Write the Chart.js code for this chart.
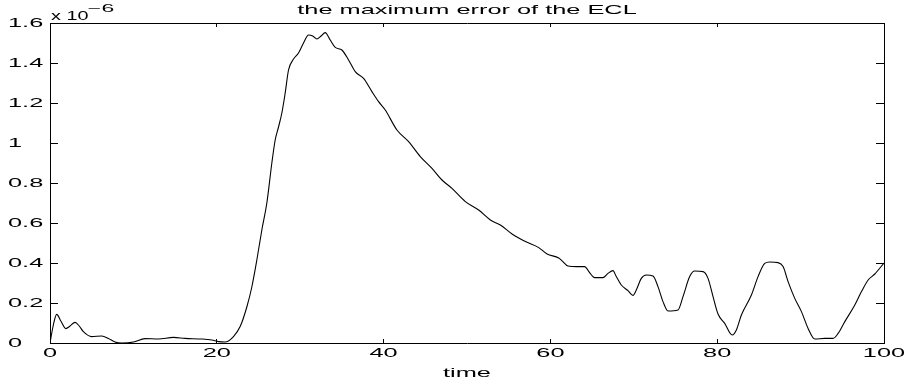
<!DOCTYPE html>
<html>
<head>
<meta charset="utf-8">
<script src="https://cdn.jsdelivr.net/npm/chart.js@4/dist/chart.umd.min.js"></script>
<style>
html,body{margin:0;padding:0;background:#fff;}
canvas{display:block;}
</style>
</head>
<body>
<canvas id="c" width="907" height="382"></canvas>
<script>
// time axis (x) values
const timeValues = [0,0.4,0.8,1.3,1.9,2.4,3.0,3.5,4.0,5.0,6.2,7.0,7.8,8.6,10,11.4,13,14.8,16.2,18.2,19.4,20.2,21,22,22.8,23.6,24.2,24.8,25.4,26.0,26.6,27.0,27.4,27.8,28.2,28.6,29.2,29.8,30.4,31.0,31.5,32.0,32.5,33.0,33.6,34.2,35.0,35.8,36.6,37.6,38.6,39.4,40.2,41.6,43.0,44.4,45.8,47.0,48.2,49.8,51.4,52.8,54.0,55.4,57.0,58.6,59.6,61.0,61.5,62.1,63.2,64.1,64.7,65.3,66.3,66.9,67.5,67.9,68.5,69.3,69.9,70.3,70.9,71.5,72.3,72.9,73.5,74.1,75.3,75.9,76.7,77.3,78.3,78.9,79.5,80.1,80.9,81.8,82.3,82.9,84.1,84.9,85.7,86.3,87.3,87.9,88.5,89.3,90.1,90.9,91.7,92.9,93.9,94.5,95.3,96.5,97.3,98.1,98.9,100];
// maximum error of the ECL, in units of 1e-6
const errorValues = [0,0.09,0.143,0.11,0.072,0.085,0.103,0.085,0.057,0.032,0.035,0.023,0.005,0,0.005,0.022,0.02,0.028,0.023,0.02,0.015,0.007,0.005,0.032,0.082,0.18,0.28,0.415,0.565,0.70,0.90,1.015,1.08,1.15,1.25,1.365,1.42,1.45,1.50,1.54,1.535,1.52,1.535,1.552,1.515,1.478,1.465,1.415,1.357,1.323,1.257,1.207,1.165,1.065,1.007,0.932,0.873,0.815,0.773,0.707,0.665,0.615,0.59,0.545,0.507,0.477,0.445,0.425,0.407,0.385,0.382,0.382,0.352,0.327,0.327,0.348,0.362,0.332,0.29,0.262,0.238,0.265,0.323,0.34,0.335,0.282,0.207,0.16,0.165,0.232,0.332,0.36,0.357,0.323,0.232,0.145,0.098,0.04,0.065,0.14,0.24,0.332,0.398,0.405,0.402,0.382,0.307,0.223,0.157,0.073,0.02,0.023,0.023,0.048,0.107,0.19,0.257,0.315,0.345,0.40];
const xTicks = [0,20,40,60,80,100];
const yTicks = [0,0.2,0.4,0.6,0.8,1.0,1.2,1.4,1.6];
const titleText = 'the maximum error of the ECL';
const xLabel = 'time';
const multiplierBase = 'x 10';
const multiplierExp = '\u22126';

const canvas = document.getElementById('c');
const ctx = canvas.getContext('2d');
// horizontally stretched lettering, like the reference
ctx._sx = 1.95;
const origFill = ctx.fillText;
ctx.fillText = function(t, x, y, maxW) {
  const sx = this._sx || 1;
  this.save();
  this.translate(x, y);
  this.scale(sx, 1);
  if (maxW !== undefined) origFill.call(this, t, 0, 0, maxW / sx);
  else origFill.call(this, t, 0, 0);
  this.restore();
};
const origMeasure = ctx.measureText;
ctx.measureText = function(t) {
  const m = origMeasure.call(this, t);
  return {width: m.width * (this._sx || 1), actualBoundingBoxAscent: m.actualBoundingBoxAscent, actualBoundingBoxDescent: m.actualBoundingBoxDescent};
};

const FONT = {family: '"Liberation Sans", Arial, Helvetica, sans-serif', size: 13};
const points = timeValues.map((t, i) => ({x: t, y: errorValues[i]}));
const fmt = v => String(Number(v.toFixed(1)));

const multiplierPlugin = {
  id: 'multiplier',
  afterDraw(chart) {
    const c = chart.ctx;
    const a = chart.chartArea;
    c.save();
    c.fillStyle = '#000';
    c.textAlign = 'left';
    c.textBaseline = 'alphabetic';
    c._sx = 1.65;
    c.font = '12px "Liberation Sans", Arial, sans-serif';
    c.fillText(multiplierBase, a.left + 1, a.top - 3);
    c._sx = 2.3;
    c.font = '10px "Liberation Sans", Arial, sans-serif';
    c.fillText(multiplierExp, a.left + 38, a.top - 11);
    c._sx = 1.95;
    c.restore();
  }
};

function setTicks(arr) { return function(scale) { scale.ticks = arr.map(v => ({value: v})); }; }
function noSidePad(s) { s.paddingLeft = 0; s.paddingRight = 0; }

new Chart(ctx, {
  type: 'line',
  data: {
    datasets: [{
      data: points,
      borderColor: '#000',
      borderWidth: 1.1,
      pointRadius: 0,
      fill: false,
      cubicInterpolationMode: 'monotone'
    }]
  },
  options: {
    responsive: false,
    animation: false,
    events: [],
    layout: {padding: {left: 8, right: 0, top: 0, bottom: 0}},
    plugins: {legend: {display: false}, title: {display: false}, tooltip: {enabled: false}},
    scales: {
      x: {
        type: 'linear', position: 'bottom', min: 0, max: 100,
        afterBuildTicks: setTicks(xTicks),
        afterFit(s) { s.height = 39; noSidePad(s); },
        grid: {drawOnChartArea: false, tickLength: -4, color: '#000', tickWidth: 1},
        border: {display: true, color: '#000', width: 1},
        ticks: {color: '#000', font: FONT, padding: 7, maxRotation: 0, autoSkip: false, callback: fmt},
        title: {display: true, text: xLabel, color: '#000', font: FONT, padding: {top: 0, bottom: 0.7}}
      },
      x2: {
        type: 'linear', position: 'top', min: 0, max: 100,
        afterBuildTicks: setTicks(xTicks),
        afterFit(s) { s.height = 23; noSidePad(s); },
        grid: {drawOnChartArea: false, tickLength: -4, color: '#000', tickWidth: 1},
        border: {display: true, color: '#000', width: 1},
        ticks: {display: false},
        title: {display: true, text: titleText, color: '#000', font: FONT, padding: {top: 2.7, bottom: 0}}
      },
      y: {
        type: 'linear', position: 'left', min: 0, max: 1.6,
        afterBuildTicks: setTicks(yTicks),
        afterFit(s) { s.width = 42; },
        grid: {drawOnChartArea: false, tickLength: -8, color: '#000', tickWidth: 1},
        border: {display: true, color: '#000', width: 1},
        ticks: {color: '#000', font: FONT, crossAlign: 'far', padding: 4, callback: fmt}
      },
      y2: {
        type: 'linear', position: 'right', min: 0, max: 1.6,
        afterBuildTicks: setTicks(yTicks),
        afterFit(s) { s.width = 23; },
        grid: {drawOnChartArea: false, tickLength: -8, color: '#000', tickWidth: 1},
        border: {display: true, color: '#000', width: 1},
        ticks: {display: false}
      }
    }
  },
  plugins: [multiplierPlugin]
});
</script>
</body>
</html>
